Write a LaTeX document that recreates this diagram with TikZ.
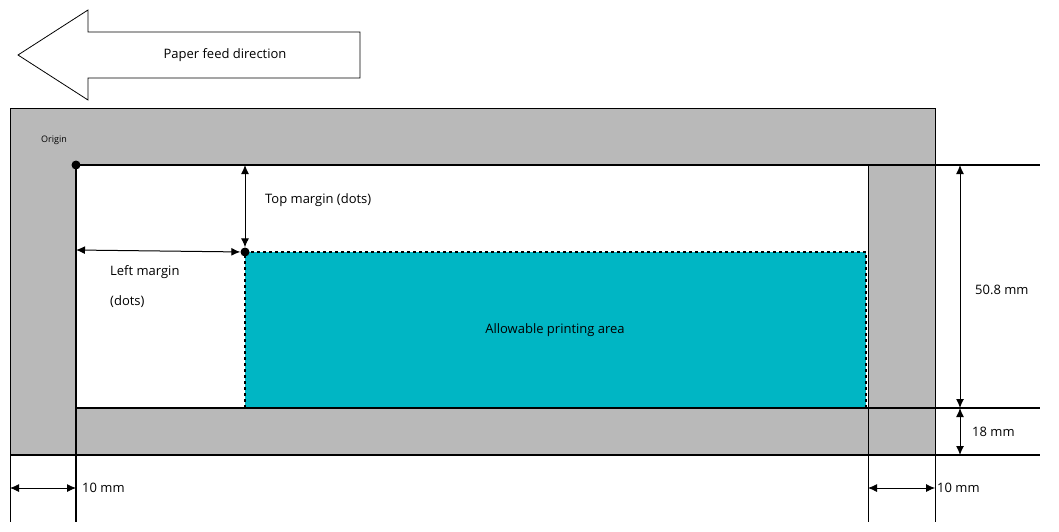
\documentclass[tikz,border=0pt]{standalone}
\usepackage{fontspec}
\setmainfont{Open Sans}
\begin{document}
\begin{tikzpicture}[x=1pt,y=-1pt,
  ln/.style={line width=1.5pt},
  dim/.style={line width=1pt,{Latex[length=9pt,width=8pt]}-{Latex[length=9pt,width=8pt]}},
  lbl/.style={font=\fontsize{13}{16}\selectfont,anchor=west,inner sep=0pt},
  dot/.style={circle,fill=black,inner sep=0pt,minimum size=9pt}]
\usetikzlibrary{arrows.meta}
\useasboundingbox (0,0) rectangle (1059,531);
% feed arrow
\draw[line width=0.8pt,fill=white] (18,55) -- (88,10) -- (88,32) -- (360,32) -- (360,78) -- (88,78) -- (88,100) -- cycle;
\node[lbl,anchor=center] (feed) at (225,55) {Paper feed direction};
% gray frame
\fill[gray!55,draw=black,line width=0.8pt] (10,108) rectangle (935,455);
\fill[white] (76,165) rectangle (868,408);
\fill[cyan!70!blue!70!black!10!,fill={rgb,255:red,0;green,182;blue,196}] (245,252) rectangle (866,408);
\draw[dashed,line width=1.2pt] (245,408) -- (245,252) -- (866,252) -- (866,408);
% lines
\coordinate (o) at (76,165);
\coordinate (m) at (245,252);
\draw[ln] (76,165) -- (1040,165);
\draw[ln] (76,408) -- (1040,408);
\draw[ln] (10,455) -- (1040,455);
\draw[ln] (76,165) -- (76,522);
\draw[line width=1pt] (10,455) -- (10,522);
\draw[line width=1pt] (868,165) -- (868,522);
\draw[line width=1pt] (935,108) -- (935,522);
\node[dot] (od) at (o) {};
\node[dot] (md) at (m) {};
\node[font=\fontsize{9}{11}\selectfont,inner sep=0pt] (orig) at (54,140) {Origin};
% dimensions
\draw[dim] (245,165) -- (md);
\draw[dim] (76,250) -- (md);
\node[lbl] (top) at (265,200) {Top margin (dots)};
\node[lbl] (lm1) at (110,272) {Left margin};
\node[lbl] (lm2) at (110,302) {(dots)};
\node[lbl,anchor=center] (area) at (555,330) {Allowable printing area};
\draw[dim] (960,165) -- (960,408);
\draw[dim] (960,408) -- (960,455);
\node[lbl] (h1) at (975,290) {50.8 mm};
\node[lbl] (h2) at (972,432) {18 mm};
\draw[dim,line width=0.8pt] (10,488) -- (76,488);
\draw[dim,line width=0.8pt] (868,488) -- (935,488);
\node[lbl] (w1) at (82,488) {10 mm};
\node[lbl] (w2) at (937,488) {10 mm};
\end{tikzpicture}
\end{document}
